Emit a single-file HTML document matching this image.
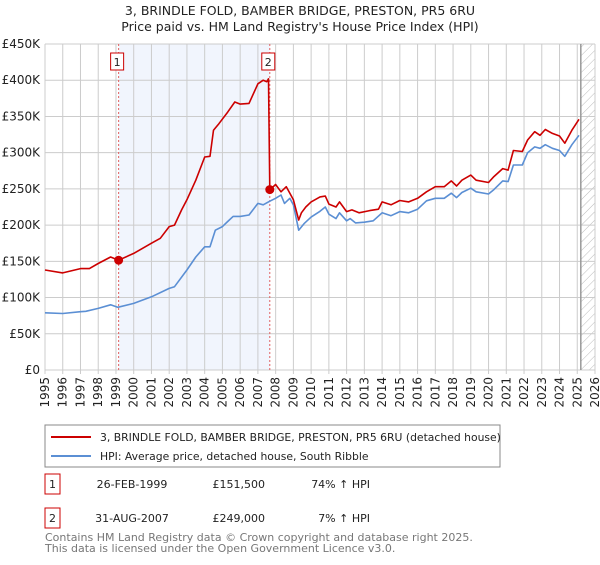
<!DOCTYPE html>
<html><head><meta charset="utf-8"><style>
body{margin:0;background:#fff;font-family:"Liberation Sans","DejaVu Sans",sans-serif;}
svg text{font-family:"DejaVu Sans","Liberation Sans",sans-serif;}
</style></head><body>
<svg id="chart" width="600" height="560" viewBox="0 0 600 560">
<defs><pattern id="hatch" width="6" height="6" patternUnits="userSpaceOnUse" patternTransform="rotate(45)"><line x1="0" y1="0" x2="0" y2="6" stroke="#bbb" stroke-width="1"/></pattern></defs>
<text x="300" y="15" text-anchor="middle" font-size="12.5" fill="#222">3, BRINDLE FOLD, BAMBER BRIDGE, PRESTON, PR5 6RU</text>
<text x="300" y="31" text-anchor="middle" font-size="12.5" fill="#222">Price paid vs. HM Land Registry's House Price Index (HPI)</text>
<g id="plot"></g>
<rect x="45" y="425" width="455" height="42" fill="#fff" stroke="#888"/>
<line x1="51" y1="437" x2="91" y2="437" stroke="#cc0000" stroke-width="2"/>
<text x="100" y="441" font-size="10.8" fill="#222">3, BRINDLE FOLD, BAMBER BRIDGE, PRESTON, PR5 6RU (detached house)</text>
<line x1="51" y1="456" x2="91" y2="456" stroke="#5b8fd4" stroke-width="2"/>
<text x="100" y="460" font-size="10.8" fill="#222">HPI: Average price, detached house, South Ribble</text>
<g font-size="11" fill="#222">
<rect x="45" y="474" width="15" height="20" fill="#fff" stroke="#cc0000"/>
<text x="52.5" y="488" text-anchor="middle">1</text>
<text x="132" y="488" text-anchor="middle">26-FEB-1999</text>
<text x="265" y="488" text-anchor="end">£151,500</text>
<text x="370" y="488" text-anchor="end">74% ↑ HPI</text>
<rect x="45" y="508" width="15" height="20" fill="#fff" stroke="#cc0000"/>
<text x="52.5" y="522" text-anchor="middle">2</text>
<text x="132" y="522" text-anchor="middle">31-AUG-2007</text>
<text x="265" y="522" text-anchor="end">£249,000</text>
<text x="370" y="522" text-anchor="end">7% ↑ HPI</text>
</g>
<text x="45" y="541" font-size="11" fill="#777">Contains HM Land Registry data © Crown copyright and database right 2025.</text>
<text x="45" y="552" font-size="11" fill="#777">This data is licensed under the Open Government Licence v3.0.</text>
</svg>
<script>
const yTicks=[0,50,100,150,200,250,300,350,400,450];
const yTickLabels=["£0","£50K","£100K","£150K","£200K","£250K","£300K","£350K","£400K","£450K"];
const xYears=[1995,1996,1997,1998,1999,2000,2001,2002,2003,2004,2005,2006,2007,2008,2009,2010,2011,2012,2013,2014,2015,2016,2017,2018,2019,2020,2021,2022,2023,2024,2025,2026];
const hpiT=[1995,1996,1997,1997.3,1998,1998.7,1999.1,2000,2001,2002,2002.3,2003,2003.5,2004,2004.3,2004.6,2005,2005.3,2005.6,2006,2006.5,2007,2007.3,2007.67,2008,2008.3,2008.5,2008.8,2009,2009.3,2009.6,2010,2010.5,2010.8,2011,2011.4,2011.6,2012,2012.2,2012.5,2013,2013.5,2014,2014.5,2015,2015.5,2016,2016.5,2017,2017.5,2017.9,2018.2,2018.5,2019,2019.3,2020,2020.3,2020.8,2021.1,2021.4,2021.9,2022.2,2022.6,2022.9,2023.2,2023.6,2024,2024.3,2024.7,2025.1];
const hpiV=[79,78,80.5,81,85,90,86.5,92,101,112.7,115,138,156,170,170,193,198,205,212,212,214,230,228,233,237,241.6,230,237,228,193,202,211,219,225,215,209,217,206,209,203,204,206,217,213,218.6,217,222,233.5,237,237,244,238,245,251,246,243,249,261,260,283,283,300,308,306,311,306,303,295,311,324];
const priceT=[1995,1996,1997,1997.5,1998,1998.7,1999.15,2000,2001,2001.5,2002,2002.3,2002.7,2003,2003.5,2004,2004.3,2004.5,2004.8,2005.3,2005.7,2006,2006.5,2007,2007.3,2007.5,2007.6,2007.67,2008,2008.3,2008.6,2009,2009.3,2009.45,2009.7,2010,2010.5,2010.8,2011,2011.4,2011.6,2012,2012.3,2012.7,2013.3,2013.8,2014,2014.5,2015,2015.5,2016,2016.5,2017,2017.5,2017.9,2018.2,2018.5,2019,2019.3,2020,2020.3,2020.8,2021.1,2021.4,2021.9,2022.2,2022.6,2022.9,2023.2,2023.6,2024,2024.3,2024.7,2025.1];
const priceV=[138,134,140,140,147,156,151.5,161,175,181.8,198,200,221,235,262,294,295,331,340,356,370,367,368,395,400,398,402,248.6,256,246,253,235,207,217,225,232,239,240,229,225,232,218.6,221,217,220,222,232,228,234,232,237,246,253,253,261,254,262,269,262,258.8,267,278,276,303,301.6,317.5,329,324,332,326.6,323,313,331,346];
const saleT=[1999.15,2007.67];
const saleV=[151.5,249];
const saleLabels=["1","2"];
const X0=45,X1=595,Y0=370,Y1=44;
const xs=t=>X0+(t-1995)/(2026-1995)*(X1-X0);
const ys=v=>Y0-v/450*(Y0-Y1);
const NS='http://www.w3.org/2000/svg';
const g=document.getElementById('plot');
function mk(tag,attrs,parent){const e=document.createElementNS(NS,tag);for(const k in attrs)e.setAttribute(k,attrs[k]);(parent||g).appendChild(e);return e;}
let e;
e=mk('rect',{x:xs(saleT[0]),y:Y1,width:xs(saleT[1])-xs(saleT[0]),height:Y0-Y1,fill:'#f1f5fd'});


const hx=xs(2025.2);
e=mk('rect',{x:hx,y:Y1,width:X1-hx,height:Y0-Y1,fill:'url(#hatch)'});


yTicks.forEach((v,i)=>{
 e=mk('line',{x1:X0,x2:X1,y1:ys(v),y2:ys(v),stroke:'#ccc','stroke-width':1});
 
 
 e=mk('text',{x:40,y:ys(v)+4,'text-anchor':'end','font-size':12,fill:'#222'});e.textContent=yTickLabels[i];
 
 
});
xYears.forEach(yr=>{
 const x=xs(yr);
 e=mk('line',{x1:x,x2:x,y1:Y1,y2:Y0+4,stroke:'#ccc','stroke-width':1});
 
 
 e=mk('text',{x:0,y:0,'text-anchor':'end','font-size':12,fill:'#222',transform:`translate(${x+4},${Y0+7}) rotate(-90)`});e.textContent=yr;
 
 
});
e=mk('line',{x1:hx,x2:hx,y1:Y1,y2:Y0,stroke:'#999','stroke-width':1.5});


saleT.forEach((t,i)=>{
 e=mk('line',{x1:xs(t),x2:xs(t),y1:Y1,y2:Y0,stroke:'#e06060','stroke-width':1,'stroke-dasharray':'2,2'});
 
 
});
function path(T,V){return T.map((t,i)=>(i?'L':'M')+xs(t).toFixed(1)+','+ys(V[i]).toFixed(1)).join('');}
e=mk('path',{d:path(hpiT,hpiV),fill:'none',stroke:'#5b8fd4','stroke-width':1.6,'stroke-linejoin':'round'});


e=mk('path',{d:path(priceT,priceV),fill:'none',stroke:'#cc0000','stroke-width':1.6,'stroke-linejoin':'round'});


saleT.forEach((t,i)=>{
 e=mk('circle',{cx:xs(t),cy:ys(saleV[i]),r:4.5,fill:'#cc0000'});
 
 
 const bx=xs(t)-7;
 e=mk('rect',{x:bx-1,y:53,width:13,height:17,fill:'#fff',stroke:'#cc0000','stroke-width':1});
 
 
 e=mk('text',{x:bx+5.5,y:66,'text-anchor':'middle','font-size':11,fill:'#222'});e.textContent=saleLabels[i];
 
 
});
</script>
</body></html>
